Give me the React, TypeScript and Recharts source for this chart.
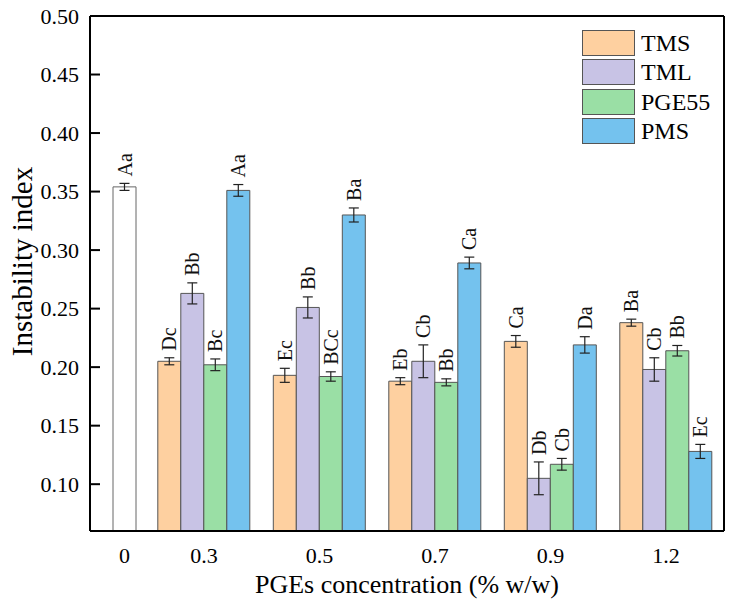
import React from "react";
import { BarChart, Bar, XAxis, YAxis, ErrorBar, LabelList, Legend } from "recharts";

const FONT = '"Liberation Serif", "Times New Roman", Times, serif';

const concentrations = ["0", "0.3", "0.5", "0.7", "0.9", "1.2"];

const controlValues = [0.354, null, null, null, null, null];
const controlErrors = [0.003, null, null, null, null, null];
const controlLetters = ["Aa", null, null, null, null, null];

const tmsValues = [null, 0.205, 0.193, 0.188, 0.222, 0.238];
const tmsErrors = [null, 0.003, 0.006, 0.003, 0.005, 0.003];
const tmsLetters = [null, "Dc", "Ec", "Eb", "Ca", "Ba"];

const tmlValues = [null, 0.263, 0.251, 0.205, 0.105, 0.198];
const tmlErrors = [null, 0.009, 0.009, 0.014, 0.014, 0.01];
const tmlLetters = [null, "Bb", "Bb", "Cb", "Db", "Cb"];

const pgeValues = [null, 0.202, 0.192, 0.187, 0.117, 0.214];
const pgeErrors = [null, 0.005, 0.004, 0.003, 0.005, 0.0045];
const pgeLetters = [null, "Bc", "BCc", "Bb", "Cb", "Bb"];

const pmsValues = [null, 0.351, 0.33, 0.289, 0.219, 0.128];
const pmsErrors = [null, 0.005, 0.006, 0.005, 0.007, 0.006];
const pmsLetters = [null, "Aa", "Ba", "Ca", "Da", "Ec"];

const yTicks = [0.1, 0.15, 0.2, 0.25, 0.3, 0.35, 0.4, 0.45, 0.5];
const Y_MIN = 0.06;
const Y_MAX = 0.5;

const series = [
  { key: "tms", name: "TMS", color: "#FED0A0", values: tmsValues, errors: tmsErrors, letters: tmsLetters },
  { key: "tml", name: "TML", color: "#C8C3E5", values: tmlValues, errors: tmlErrors, letters: tmlLetters },
  { key: "pge", name: "PGE55", color: "#9ADFA5", values: pgeValues, errors: pgeErrors, letters: pgeLetters },
  { key: "pms", name: "PMS", color: "#74C2EE", values: pmsValues, errors: pmsErrors, letters: pmsLetters },
];

const data = concentrations.map((conc, i) => {
  const row: Record<string, any> = {
    conc,
    ctrl: controlValues[i],
    ctrlErr: controlErrors[i],
  };
  series.forEach((s) => {
    row[s.key] = s.values[i];
    row[s.key + "Err"] = s.errors[i];
  });
  return row;
});

const treatmentTicks = concentrations.filter((_, i) => tmsValues[i] != null);

const TICK_FONT = 22;
const X_TICK_MARGIN = 16;

// rotated significance letters sitting just above the error bar
// (LabelList value is the category, so lookups don't depend on skipped null rows)
const letterLabel =
  (values: (number | null)[], errors: (number | null)[], letters: (string | null)[]) => (props: any) => {
    const vb = props.viewBox || props;
    const i = concentrations.indexOf(String(props.value));
    const v = values[i];
    const letter = letters[i];
    if (i < 0 || v == null || !letter) return null;
    const x = Number(vb.x);
    const y = Number(vb.y);
    const width = Number(vb.width);
    const height = Number(vb.height);
    const errPx = (height / (v - Y_MIN)) * (errors[i] ?? 0);
    const cx = x + width / 2;
    const cy = y - errPx - 7;
    return (
      <text
        x={cx}
        y={cy}
        transform={`rotate(-90 ${cx} ${cy})`}
        textAnchor="start"
        dominantBaseline="central"
        fontFamily={FONT}
        fontSize={20}
        fill="#111"
      >
        {letter}
      </text>
    );
  };

// the "0" category label lives under the control bar
const ControlTick = (props: any) => {
  const vb = props.viewBox || props;
  const i = concentrations.indexOf(String(props.value));
  if (i < 0 || controlValues[i] == null) return null;
  const x = Number(vb.x) + Number(vb.width) / 2;
  const y = Number(vb.y) + Number(vb.height) + X_TICK_MARGIN;
  return (
    <text x={x} y={y} dy="0.71em" textAnchor="middle" fontFamily={FONT} fontSize={TICK_FONT} fill="#000">
      {props.value}
    </text>
  );
};

const XTitle = (props: any) => {
  const vb = props.viewBox;
  return (
    <text
      x={vb.x + vb.width / 2}
      y={vb.y + vb.height - 12}
      textAnchor="middle"
      fontFamily={FONT}
      fontSize={26}
      fill="#000"
    >
      PGEs concentration (% w/w)
    </text>
  );
};

const YTitle = (props: any) => {
  const vb = props.viewBox;
  const cx = vb.x + 22;
  const cy = vb.y + vb.height / 2 - 12;
  return (
    <text
      x={cx}
      y={cy}
      transform={`rotate(-90 ${cx} ${cy})`}
      textAnchor="middle"
      dominantBaseline="central"
      fontFamily={FONT}
      fontSize={29}
      fill="#000"
    >
      Instability index
    </text>
  );
};

const LegendBox = () => (
  <div style={{ fontFamily: FONT, fontSize: 24, color: "#000" }}>
    {series.map((s) => (
      <div key={s.key} style={{ display: "flex", alignItems: "center", height: 29.5 }}>
        <div
          style={{
            width: 51,
            height: 24,
            background: s.color,
            border: "1px solid #555",
            marginRight: 6,
          }}
        />
        <span style={{ lineHeight: "24px" }}>{s.name}</span>
      </div>
    ))}
  </div>
);

export default function App() {
  return (
    <div style={{ position: "absolute", left: 0, top: 0, background: "#fff", fontFamily: FONT }}>
      <BarChart
        width={735}
        height={605}
        data={data}
        margin={{ top: 15, right: 10, left: 0, bottom: 0 }}
        barGap={0}
        barCategoryGap="10%"
        style={{ fontFamily: FONT }}
      >
        <Bar
          xAxisId="ctrl"
          dataKey="ctrl"
          name="Control"
          fill="#ffffff"
          stroke="#666"
          strokeWidth={1}
          barSize={23}
          isAnimationActive={false}
        >
          <ErrorBar dataKey="ctrlErr" width={5} stroke="#222" strokeWidth={1.2} />
          <LabelList dataKey="conc" content={letterLabel(controlValues, controlErrors, controlLetters)} />
          <LabelList dataKey="conc" content={ControlTick} />
        </Bar>
        {series.map((s) => (
          <Bar
            key={s.key}
            xAxisId="trt"
            dataKey={s.key}
            name={s.name}
            fill={s.color}
            stroke="#555"
            strokeWidth={1}
            isAnimationActive={false}
          >
            <ErrorBar dataKey={s.key + "Err"} width={5} stroke="#222" strokeWidth={1.2} />
            <LabelList dataKey="conc" content={letterLabel(s.values, s.errors, s.letters)} />
          </Bar>
        ))}

        <XAxis
          xAxisId="trt"
          dataKey="conc"
          ticks={treatmentTicks}
          interval={0}
          padding={{ left: -59.25, right: 0.25 }}
          height={74}
          tickLine={false}
          tickSize={0}
          tickMargin={X_TICK_MARGIN}
          axisLine={{ stroke: "#000", strokeWidth: 2 }}
          tick={{ fill: "#000", fontSize: TICK_FONT, fontFamily: FONT }}
          label={XTitle}
        />
        <XAxis xAxisId="ctrl" dataKey="conc" hide height={0} padding={{ left: 0, right: 220 }} />
        <XAxis
          xAxisId="top"
          dataKey="conc"
          orientation="top"
          height={1}
          tick={false}
          tickLine={false}
          axisLine={{ stroke: "#000", strokeWidth: 2 }}
        />
        <YAxis
          type="number"
          domain={[Y_MIN, Y_MAX]}
          ticks={yTicks}
          allowDataOverflow
          width={90}
          tickSize={-10}
          tickMargin={21}
          tickFormatter={(v: number) => v.toFixed(2)}
          tickLine={{ stroke: "#000", strokeWidth: 2 }}
          axisLine={{ stroke: "#000", strokeWidth: 2 }}
          tick={{ fill: "#000", fontSize: TICK_FONT, fontFamily: FONT }}
          label={YTitle}
        />
        <YAxis
          yAxisId="frame"
          orientation="right"
          type="number"
          domain={[Y_MIN, Y_MAX]}
          width={1}
          tick={false}
          tickLine={false}
          axisLine={{ stroke: "#000", strokeWidth: 2 }}
        />
        <Legend
          layout="vertical"
          align="center"
          verticalAlign="middle"
          content={() => <LegendBox />}
          wrapperStyle={{ left: 582, top: 28, right: "auto", bottom: "auto", width: "auto" }}
        />
      </BarChart>
    </div>
  );
}
